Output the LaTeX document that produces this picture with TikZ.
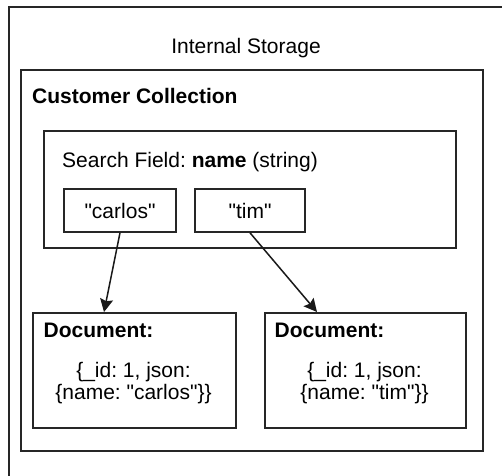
\documentclass[tikz,border=0pt]{standalone}
\usepackage{fontspec}
\setmainfont{Liberation Sans}
\usetikzlibrary{arrows.meta}
\newcommand{\dq}{\textquotedbl}

\begin{document}
\begin{tikzpicture}[x=1pt, y=-1pt, font=\fontsize{21}{22}\selectfont\frenchspacing,
        box/.style={draw=black!85, line width=1.6pt, inner sep=0pt, anchor=north west},
        item/.style={draw=black!85, line width=1.6pt, inner sep=0pt, minimum height=43pt},
        link/.style={draw=black!90, line width=1.5pt, -{Stealth[length=13pt, width=13pt, inset=2pt]}}]
            \useasboundingbox (0,0) rectangle (502,475);
            \clip (0,0) rectangle (502,475);
            \node [box, minimum width=540pt, minimum height=500pt] (storage) at (8,6) {};
            \node [box, minimum width=462pt, minimum height=381pt] (coll) at (20,69) {};
            \node [box, minimum width=412pt, minimum height=117pt] (search) at (43,130) {};
            \node [box, minimum width=203pt, minimum height=115pt] (doc1) at (32,312) {};
            \node [box, minimum width=201pt, minimum height=115pt] (doc2) at (264,312) {};
            \node [item, minimum width=112pt] (carlos) at (120,210.5) {\dq carlos\dq};
            \node [item, minimum width=110pt] (tim) at (250,210.5) {\dq tim\dq};
            \node [anchor=base, inner sep=0pt] (title) at (246,53) {Internal Storage};
            \node [anchor=base west, inner sep=0pt] (colltitle) at (32,103) {\bfseries Customer Collection};
            \node [anchor=base west, inner sep=0pt] (searchlabel) at (62,167) {Search Field: \textbf{name} (string)};
            \node [anchor=base west, inner sep=0pt] (doc1title) at (43.5,337.5) {\bfseries Document:};
            \node [anchor=base west, inner sep=0pt] (doc2title) at (274.5,337.5) {\bfseries Document:};
            \node [align=center, inner sep=0pt] (doc1body) at (133.5,383.5) {\{\_id: 1, json:\\\{name: \dq carlos\dq\}\}};
            \node [align=center, inner sep=0pt] (doc2body) at (364.5,383.5) {\{\_id: 1, json:\\\{name: \dq tim\dq\}\}};
            \draw [link] (carlos.south) -- ([shift={(72,0)}]doc1.north west);
            \draw [link] (tim.south) -- ([shift={(53,0)}]doc2.north west);
        \end{tikzpicture}
\end{document}
